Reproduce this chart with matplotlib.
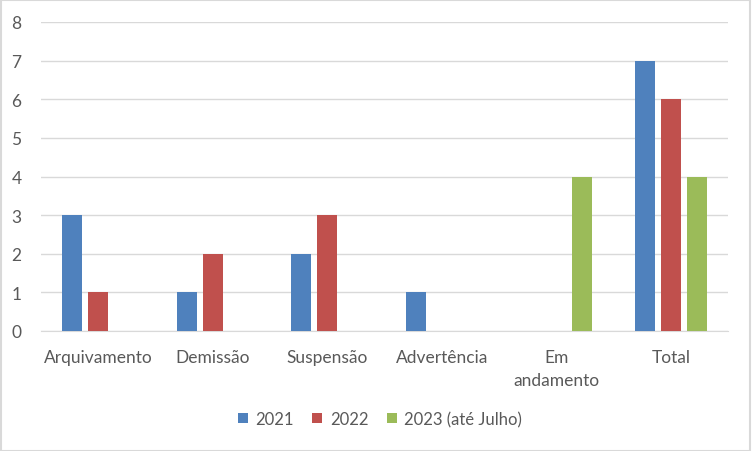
import matplotlib.pyplot as plt
import numpy as np

categorias = ['Arquivamento', 'Demissão', 'Suspensão', 'Advertência', 'Em\nandamento', 'Total']
v2021 = [3, 1, 2, 1, 0, 7]
v2022 = [1, 2, 3, 0, 0, 6]
v2023 = [0, 0, 0, 0, 4, 4]
series = ['2021', '2022', '2023 (até Julho)']
cores = ['#4F81BD', '#C0504D', '#9BBB59']

plt.rcParams['font.family'] = ['Lato', 'DejaVu Sans']

fig = plt.figure(figsize=(7.52, 4.52), dpi=100)
ax = fig.add_axes([41 / 752, 1 - 332 / 452, 687 / 752, 309 / 452])

x = np.arange(len(categorias))
passo = 0.227
largura = 0.175
for i, (vals, nome, cor) in enumerate(zip([v2021, v2022, v2023], series, cores)):
    ax.bar(x + (i - 1) * passo, vals, width=largura, color=cor, label=nome, zorder=3)

ax.set_xlim(-0.5, len(categorias) - 0.5)
ax.set_ylim(0, 8)
ax.set_yticks(range(0, 9))
ax.grid(axis='y', color='#D9D9D9', linewidth=1, zorder=0)
for s in ['top', 'right', 'left']:
    ax.spines[s].set_visible(False)
ax.spines['bottom'].set_color('#D9D9D9')
ax.tick_params(axis='both', length=0, colors='#595959', labelsize=12.5)
ax.tick_params(axis='y', pad=14)
ax.tick_params(axis='x', pad=13)
ax.set_xticks(x)
ax.set_xticklabels(categorias, linespacing=1.55)

fig.legend(loc='center', bbox_to_anchor=(380 / 752, 1 - 420 / 452), ncol=3, frameon=False,
           fontsize=12, labelcolor='#595959', handlelength=0.6, handleheight=0.6,
           columnspacing=1.1, handletextpad=0.45)

fig.patches.append(plt.Rectangle((0.001, 0.001), 0.997, 0.997, transform=fig.transFigure,
                                 fill=False, edgecolor='#D9D9D9', linewidth=1.5))

fig.savefig('out.png', dpi=100)
